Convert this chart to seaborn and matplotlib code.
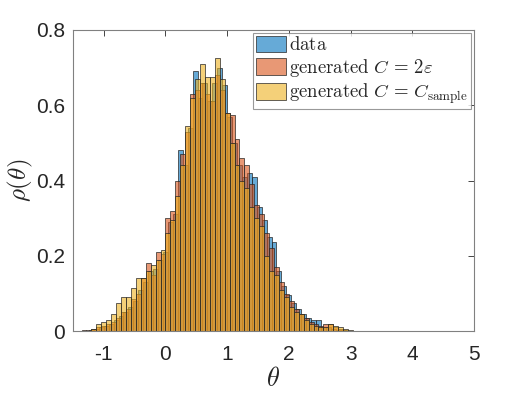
import pandas as pd
import seaborn as sns
import matplotlib.pyplot as plt

# bin layout (density per bin, width 0.08)
BIN_WIDTH = 0.08
data_start = -1.32
gen_eps_start = -1.36
gen_sample_start = -1.28

data_heights = [
    0.0, 0.003, 0.006, 0.01, 0.015, 0.02, 0.03, 0.04, 0.05, 0.065,
    0.08, 0.11, 0.13, 0.16, 0.165, 0.19, 0.21, 0.29, 0.31, 0.48,
    0.44, 0.54, 0.69, 0.62, 0.66, 0.61, 0.66, 0.70, 0.655, 0.57,
    0.50, 0.44, 0.41, 0.42, 0.41, 0.33, 0.295, 0.25, 0.236, 0.16,
    0.12, 0.095, 0.075, 0.06, 0.045, 0.035, 0.029, 0.029, 0.012, 0.01,
    0.006, 0.004, 0.002, 0.0,
]
gen_eps_heights = [
    0.003, 0.003, 0.005, 0.01, 0.015, 0.02, 0.025, 0.035, 0.05, 0.06,
    0.085, 0.10, 0.14, 0.18, 0.15, 0.21, 0.205, 0.30, 0.32, 0.40,
    0.47, 0.53, 0.63, 0.64, 0.66, 0.63, 0.61, 0.68, 0.64, 0.58,
    0.575, 0.51, 0.46, 0.44, 0.39, 0.335, 0.31, 0.26, 0.22, 0.17,
    0.13, 0.10, 0.08, 0.06, 0.045, 0.035, 0.025, 0.02, 0.015, 0.02,
    0.02, 0.01, 0.005, 0.002,
]
gen_sample_heights = [
    0.0, 0.005, 0.018, 0.025, 0.03, 0.045, 0.075, 0.09, 0.09, 0.115,
    0.14, 0.14, 0.16, 0.175, 0.19, 0.215, 0.26, 0.295, 0.36, 0.44,
    0.545, 0.62, 0.67, 0.71, 0.675, 0.675, 0.725, 0.67, 0.58, 0.50,
    0.44, 0.40, 0.38, 0.33, 0.30, 0.28, 0.20, 0.16, 0.15, 0.11,
    0.09, 0.065, 0.05, 0.045, 0.03, 0.02, 0.015, 0.01, 0.012, 0.02,
    0.015, 0.01, 0.005, 0.002,
]

series_labels = [
    r"$\mathrm{data}$",
    r"$\mathrm{generated}\ C\,=\,2\varepsilon$",
    r"$\mathrm{generated}\ C\,=\,C_{\mathrm{sample}}$",
]
series_colors = ["#0072BD", "#D95319", "#EDB120"]

x_ticks = [-1, 0, 1, 2, 3, 4, 5]
y_ticks = [0, 0.2, 0.4, 0.6, 0.8]
y_tick_labels = ["0", "0.2", "0.4", "0.6", "0.8"]


def main() -> None:
    sns.set_style("white")
    plt.rcParams["font.family"] = ["Liberation Sans", "DejaVu Sans"]
    plt.rcParams["mathtext.fontset"] = "cm"

    fig = plt.figure(figsize=(5.32, 3.99), dpi=100)
    ax = fig.add_axes([0.137, 0.170, 0.754, 0.755])

    series = [
        (data_start, data_heights),
        (gen_eps_start, gen_eps_heights),
        (gen_sample_start, gen_sample_heights),
    ]
    for (start, heights), color, label in zip(series, series_colors, series_labels):
        n = len(heights)
        df = pd.DataFrame({
            "theta": [start + BIN_WIDTH * (i + 0.5) for i in range(n)],
            "rho": heights,
        })
        sns.histplot(
            data=df,
            x="theta",
            weights="rho",
            binwidth=BIN_WIDTH,
            binrange=(start, start + BIN_WIDTH * (n - 0.01)),
            stat="count",
            color=color,
            alpha=0.6,
            edgecolor=(0.15, 0.15, 0.15),
            linewidth=0.5,
            label=label,
            ax=ax,
        )

    ax.set_xlim(-1.5, 5)
    ax.set_ylim(0, 0.8)
    ax.set_xticks(x_ticks)
    ax.set_xticklabels([str(t) for t in x_ticks])
    ax.set_yticks(y_ticks)
    ax.set_yticklabels(y_tick_labels)
    ax.tick_params(direction="in", length=4, width=0.6, color="0.15",
                   labelsize=15, labelcolor="0.15", top=True, right=True)
    ax.tick_params(axis="x", pad=10)
    ax.tick_params(axis="y", pad=5.5)
    for spine in ax.spines.values():
        spine.set_color("0.5")
        spine.set_linewidth(0.8)

    ax.set_xlabel(r"$\theta$", fontsize=19, labelpad=2)
    ax.set_ylabel(r"$\rho(\theta)$", fontsize=18, labelpad=1)

    leg = ax.legend(loc="upper right", fontsize=13.5, frameon=True,
                    fancybox=False, handlelength=1.6, handleheight=1.0,
                    handletextpad=0.2, borderpad=0.15, labelspacing=0.15,
                    borderaxespad=0.15)
    leg.get_frame().set_edgecolor("0.5")
    leg.get_frame().set_linewidth(0.8)

    fig.savefig("out.png", dpi=100)


if __name__ == "__main__":
    main()
